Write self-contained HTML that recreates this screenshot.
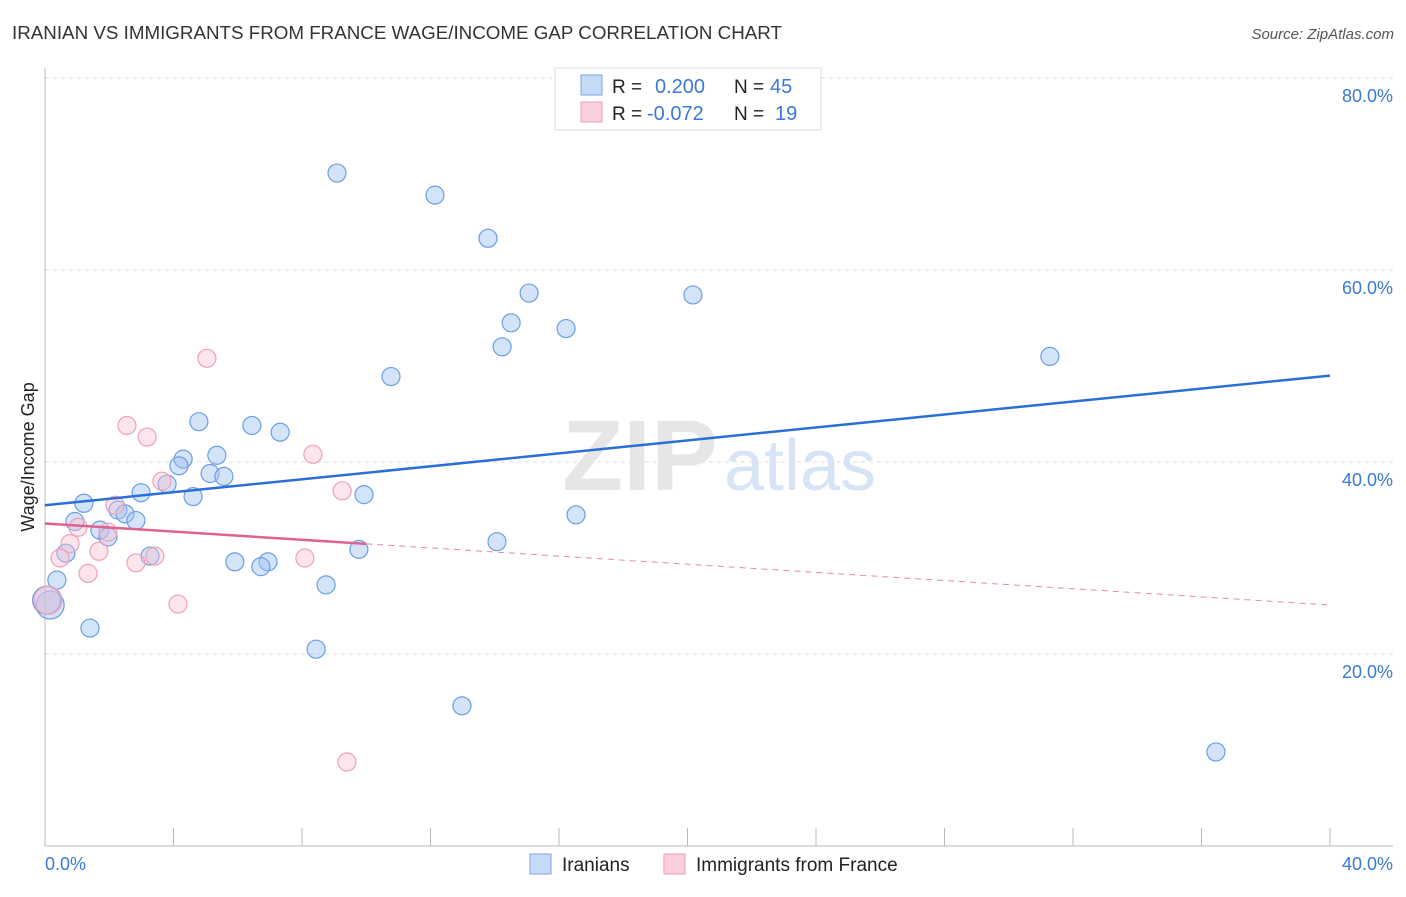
<!DOCTYPE html>
<html><head><meta charset="utf-8"><style>
body{margin:0;background:#fff;font-family:"Liberation Sans",sans-serif;}
svg text{font-family:"Liberation Sans",sans-serif;}
</style></head><body>
<svg id="chart" width="1406" height="892" xmlns="http://www.w3.org/2000/svg">
<text x="12" y="39" font-size="18" fill="#333" textLength="770" lengthAdjust="spacingAndGlyphs">IRANIAN VS IMMIGRANTS FROM FRANCE WAGE/INCOME GAP CORRELATION CHART</text>
<text x="1394" y="39" font-size="15" fill="#555" font-style="italic" text-anchor="end">Source: ZipAtlas.com</text>
<g id="grid"></g>
<text x="640" y="490" font-size="100" fill="#e6e6e6" font-family="Liberation Serif" text-anchor="middle" font-weight="bold">ZIP</text>
<text x="800" y="490" font-size="72" fill="#d6e4f5" text-anchor="middle">atlas</text>
<line x1="45" y1="68" x2="45" y2="846" stroke="#bbb"/>
<line x1="45" y1="846" x2="1393" y2="846" stroke="#bbb"/>
<g id="xticks"></g>
<g id="ylabels"></g>
<text x="45" y="870" font-size="18" fill="#3b78d8">0.0%</text>
<text x="1393" y="870" font-size="18" fill="#3b78d8" text-anchor="end">40.0%</text>
<text transform="translate(34,457) rotate(-90)" font-size="18" fill="#222" text-anchor="middle">Wage/Income Gap</text>
<g id="pts"></g>
<g id="lines"></g>
<g>
<rect x="555" y="68" width="266" height="62" fill="#fff" stroke="#ddd"/>
<rect x="581" y="75" width="21" height="20" fill="#c5daf6" stroke="#7aa6e6"/>
<rect x="581" y="102" width="21" height="20" fill="#fbd0dc" stroke="#f09ab4"/>
<text x="612" y="93" font-size="19" fill="#222">R =</text>
<text x="655" y="93" font-size="20" fill="#3b78d8">0.200</text>
<text x="734" y="93" font-size="19" fill="#222">N =</text>
<text x="770" y="93" font-size="20" fill="#3b78d8">45</text>
<text x="612" y="120" font-size="19" fill="#222">R =</text>
<text x="647" y="120" font-size="20" fill="#3b78d8">-0.072</text>
<text x="734" y="120" font-size="19" fill="#222">N =</text>
<text x="775" y="120" font-size="20" fill="#3b78d8">19</text>
</g>
<g>
<rect x="530" y="854" width="21" height="20" fill="#c5daf6" stroke="#7aa6e6"/>
<text x="562" y="871" font-size="19" fill="#222">Iranians</text>
<rect x="664" y="854" width="21" height="20" fill="#fbd0dc" stroke="#f09ab4"/>
<text x="696" y="871" font-size="19" fill="#222">Immigrants from France</text>
</g>
</svg>
<script>
const blueX=[9.09,12.14,13.79,15.07,20.17,14.51,16.22,14.23,31.28,10.77,4.79,6.44,7.32,4.30,5.35,4.17,5.14,5.57,3.80,4.61,2.99,1.21,9.93,16.53,2.27,2.49,2.83,0.93,1.71,1.96,9.77,14.07,0.65,3.27,5.91,6.94,6.72,0.37,8.75,0.16,1.40,8.44,12.98,36.45,0.05];
const blueY=[70.1,67.8,63.3,57.6,57.4,54.5,53.9,52.0,51.0,48.9,44.2,43.8,43.1,40.3,40.7,39.6,38.8,38.5,37.7,36.4,36.8,35.7,36.6,34.5,35.0,34.6,33.9,33.8,32.9,32.2,30.9,31.7,30.5,30.2,29.6,29.6,29.1,27.7,27.2,25.1,22.7,20.5,14.6,9.8,25.6];
const pinkX=[5.04,2.55,3.18,8.34,3.64,9.25,2.18,1.03,1.96,0.78,1.68,0.47,3.42,2.83,8.09,1.34,4.14,0.09,9.40];
const pinkY=[50.8,43.8,42.6,40.8,38.0,37.0,35.5,33.2,32.7,31.5,30.7,30.0,30.2,29.5,30.0,28.4,25.2,25.6,8.75];
const yTicks=[20,40,60,80];
const yTickLabels=["20.0%","40.0%","60.0%","80.0%"];
const xTicks=[0,4,8,12,16,20,24,28,32,36,40];
const blueLine=[35.5,49.0];
const pinkLine=[33.6,25.1];
const pinkSolidEnd=10;
const NS="http://www.w3.org/2000/svg";
const xs=v=>45+v/40*1285, ys=v=>846-v*9.6;
function mk(p,t,a){const e=document.createElementNS(NS,t);for(const k in a)e.setAttribute(k,a[k]);p.appendChild(e);return e;}
const grid=document.getElementById('grid'),yl=document.getElementById('ylabels'),xt=document.getElementById('xticks');
yTicks.forEach((t,i)=>{
 const l=mk(grid,'line',{x1:45,x2:1393,y1:ys(t),y2:ys(t),stroke:'#ddd','stroke-dasharray':'4,4'});
 
 
 const tx=mk(yl,'text',{x:1393,y:ys(t)+24,'font-size':18,fill:'#3b78d8','text-anchor':'end'});
 tx.textContent=yTickLabels[i];
 
 
});
xTicks.forEach(t=>{
 if(t===0)return;
 const l=mk(xt,'line',{x1:xs(t),x2:xs(t),y1:828,y2:846,stroke:'#bbb'});
 
 
});
const pts=document.getElementById('pts');
blueX.forEach((x,i)=>{
 const big=x<0.2;
 const c=mk(pts,'circle',{cx:xs(x),cy:ys(blueY[i]),r:big?14:9,fill:'rgba(160,195,240,0.45)',stroke:'#6a9ee6','stroke-width':1.2});
 
 
});
pinkX.forEach((x,i)=>{
 const big=x<0.2;
 const c=mk(pts,'circle',{cx:xs(x),cy:ys(pinkY[i]),r:big?14:9,fill:'rgba(248,190,208,0.4)',stroke:'#f0a0b8','stroke-width':1.2});
 
 
});
const lines=document.getElementById('lines');
const bl=mk(lines,'line',{x1:xs(0),y1:ys(blueLine[0]),x2:xs(40),y2:ys(blueLine[1]),stroke:'#2a6fd6','stroke-width':2.5});


const pm=pinkLine[0]+(pinkLine[1]-pinkLine[0])*pinkSolidEnd/40;
const pl=mk(lines,'line',{x1:xs(0),y1:ys(pinkLine[0]),x2:xs(pinkSolidEnd),y2:ys(pm),stroke:'#e0628c','stroke-width':2.5});


const pd=mk(lines,'line',{x1:xs(pinkSolidEnd),y1:ys(pm),x2:xs(40),y2:ys(pinkLine[1]),stroke:'#e88aa8','stroke-width':1,'stroke-dasharray':'6,5'});


</script>
</body></html>
